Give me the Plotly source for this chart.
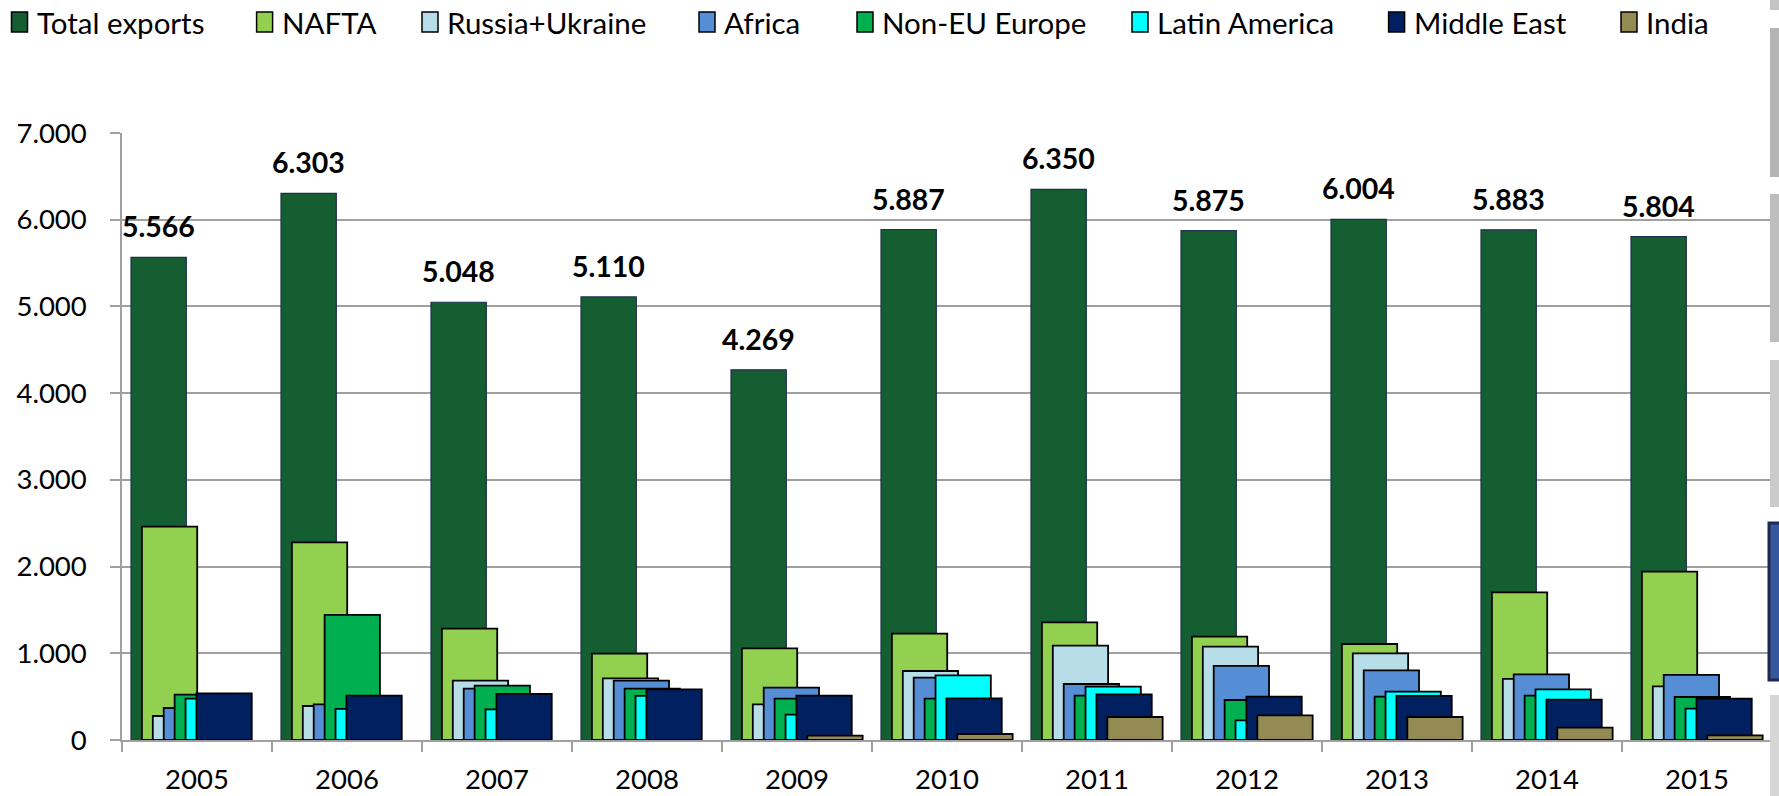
import plotly.graph_objects as go

# ---- data -------------------------------------------------------------
years = ["2005", "2006", "2007", "2008", "2009", "2010",
         "2011", "2012", "2013", "2014", "2015"]

total_exports = [5566, 6303, 5048, 5110, 4269, 5887, 6350, 5875, 6004, 5883, 5804]
nafta = [2460, 2280, 1284, 996, 1057, 1227, 1357, 1192, 1107, 1703, 1941]
russia_ukraine = [277, 392, 684, 711, 411, 796, 1088, 1077, 1000, 704, 619]
africa = [369, 411, 592, 684, 604, 719, 646, 854, 804, 757, 750]
non_eu_europe = [523, 1442, 627, 592, 477, 477, 511, 461, 500, 511, 496]
latin_america = [477, 358, 354, 508, 292, 746, 615, 227, 558, 584, 361]
middle_east = [538, 511, 531, 584, 511, 481, 527, 500, 508, 465, 477]
india = [None, None, None, None, 50, 69, 265, 285, 265, 142, 54]

series_names = ["Total exports", "NAFTA", "Russia+Ukraine", "Africa",
                "Non-EU Europe", "Latin America", "Middle East", "India"]
series_values = [total_exports, nafta, russia_ukraine, africa,
                 non_eu_europe, latin_america, middle_east, india]
series_colors = ["#155E32", "#92D050", "#B7DEE8", "#558ED5",
                 "#00B050", "#00FFFF", "#002060", "#948A54"]

# ---- geometry ---------------------------------------------------------
W, H = 1779, 796
M_L, M_R, M_T, M_B = 122, 7, 133, 56
PLOT_W = W - M_L - M_R
PLOT_H = H - M_T - M_B
CAT_PX = PLOT_W / len(years)

BAR_W = 0.3687          # bar width in category units
FIRST_OFF = -0.44       # left edge of first bar relative to category centre
STEP = 0.0727           # shift between successive series

GRID = "#a0a0a0"
FONT = "Lato, 'Open Sans', sans-serif"


def px_x(p):
    return (p - M_L) / PLOT_W


def px_y(p):
    return (H - M_B - p) / PLOT_H


def fmt(v):
    return f"{v:,.0f}".replace(",", ".")


fig = go.Figure()

for i, (name, vals, col) in enumerate(zip(series_names, series_values, series_colors)):
    line = dict(color="#1F2F4F", width=1.2) if i == 0 else dict(color="black", width=1.8)
    fig.add_trace(go.Bar(
        x=years, y=vals, name=name,
        marker=dict(color=col, line=line),
        width=BAR_W, offset=FIRST_OFF + i * STEP,
        showlegend=False,
    ))

# value labels above the total-exports bars (x given as category index)
label_shift = (FIRST_OFF + BAR_W / 2) * CAT_PX
annotations = []
for idx, v in enumerate(total_exports):
    annotations.append(dict(
        x=idx, y=v, xref="x", yref="y", text=fmt(v), showarrow=False,
        xshift=label_shift, yshift=31, yanchor="middle",
        font=dict(family=FONT, size=28.5, color="black", weight="bold"),
    ))

# legend row across the top
legend_x = [11.5, 256.6, 422, 699, 857, 1132, 1388.6, 1621]
shapes = []
for name, col, lx in zip(series_names, series_colors, legend_x):
    shapes.append(dict(
        type="rect", xref="paper", yref="paper",
        x0=px_x(lx), x1=px_x(lx + 16), y0=px_y(32), y1=px_y(12),
        fillcolor=col, line=dict(color="black", width=1.5),
    ))
    annotations.append(dict(
        x=px_x(lx + 23), y=px_y(22), xref="paper", yref="paper",
        text=name, showarrow=False, xanchor="left", yanchor="middle",
        font=dict(family=FONT, size=29.5, color="black"),
    ))

# slide furniture along the right edge
edge = [(0, 10, "#c4c4c4"), (28, 177, "#b4b4b4"), (194, 342, "#bdbdbd"),
        (360, 507, "#cbcbcb"), (695, 796, "#d6d6d6")]
for y0, y1, c in edge:
    shapes.append(dict(
        type="rect", xref="paper", yref="paper", layer="above",
        x0=px_x(1770), x1=px_x(1780), y0=px_y(y1), y1=px_y(y0),
        fillcolor=c, line=dict(width=0),
    ))
shapes.append(dict(
    type="rect", xref="paper", yref="paper", layer="above",
    x0=px_x(1769), x1=px_x(1782), y0=px_y(680), y1=px_y(523),
    fillcolor="#3457A0", line=dict(color="#1C2A4F", width=3),
))

fig.update_layout(
    width=W, height=H,
    margin=dict(l=M_L, r=M_R, t=M_T, b=M_B, autoexpand=False),
    barmode="overlay",
    plot_bgcolor="white", paper_bgcolor="white",
    separators=",.",
    annotations=annotations,
    shapes=shapes,
    font=dict(family=FONT, color="black"),
)

fig.update_xaxes(
    type="category", range=[-0.5, len(years) - 0.5],
    tickson="boundaries", ticks="outside", ticklen=10, tickwidth=1.5,
    tickcolor=GRID, showline=True, linecolor=GRID, linewidth=1.5,
    showgrid=False, tickfont=dict(family=FONT, size=27.5, color="black"),
    ticklabelstandoff=14,
)
fig.update_yaxes(
    range=[0, 7000], dtick=1000, tickformat=",d",
    showgrid=True, gridcolor=GRID, gridwidth=1.5, zeroline=False,
    showline=True, linecolor=GRID, linewidth=1.5,
    ticks="outside", ticklen=10, tickwidth=1.5, tickcolor=GRID,
    tickfont=dict(family=FONT, size=27.5, color="black"),
    ticklabelstandoff=18,
)

fig.write_html("out.html")
